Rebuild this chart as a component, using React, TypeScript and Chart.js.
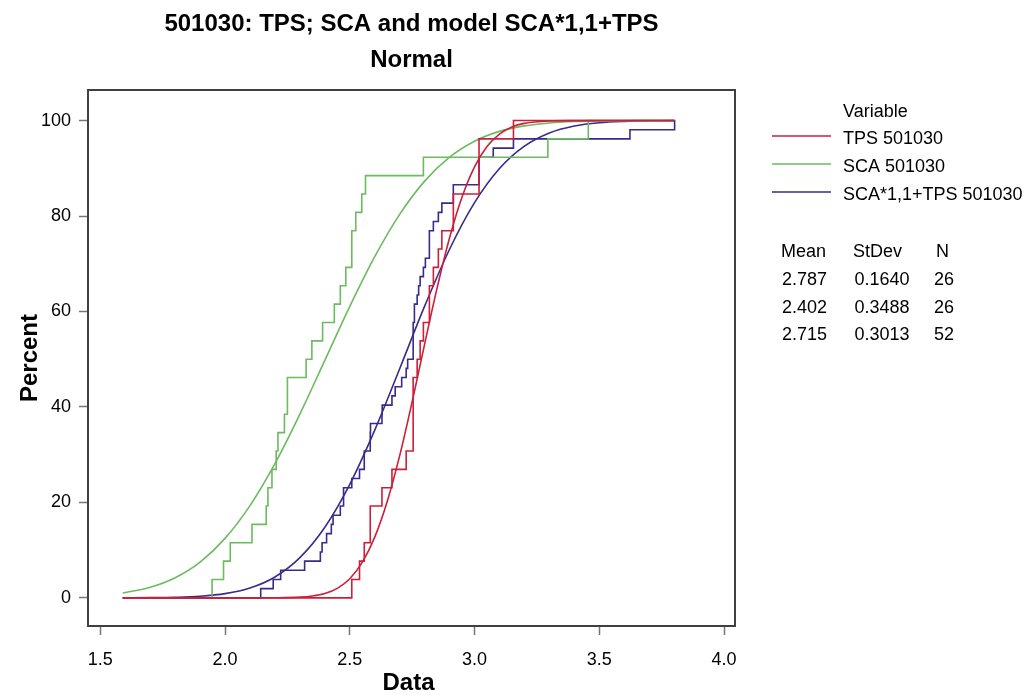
import React, { useEffect, useRef } from 'react';
import { Chart, registerables } from 'chart.js';

Chart.register(...registerables);

const FONT = '"Liberation Sans", Arial, Helvetica, sans-serif';

const title1 = '501030: TPS; SCA and model SCA*1,1+TPS';
const title2 = 'Normal';
const xAxisTitle = 'Data';
const yAxisTitle = 'Percent';
const legendTitle = 'Variable';

const seriesNames = ['TPS 501030', 'SCA 501030', 'SCA*1,1+TPS 501030'];
const seriesColors = ['#cc1f3a', '#6cbb5e', '#3b2a8a'];

// raw observations (sorted) read from the empirical CDF steps
const tpsValues = [2.508, 2.539, 2.558, 2.582, 2.582, 2.629, 2.669, 2.726, 2.754, 2.754, 2.754, 2.754, 2.770,
  2.782, 2.795, 2.819, 2.819, 2.835, 2.855, 2.869, 2.915, 2.915, 3.018, 3.018, 3.018, 3.156];
const scaValues = [1.948, 1.994, 2.021, 2.108, 2.165, 2.172, 2.188, 2.205, 2.212, 2.238, 2.250, 2.250, 2.325,
  2.348, 2.391, 2.438, 2.462, 2.484, 2.508, 2.508, 2.524, 2.548, 2.563, 2.795, 3.294, 3.456];
const modelValues = [2.143, 2.193, 2.223, 2.319, 2.382, 2.389, 2.407, 2.426, 2.433, 2.462, 2.475, 2.475, 2.508,
  2.539, 2.558, 2.558, 2.582, 2.582, 2.583, 2.629, 2.630, 2.669, 2.682, 2.708, 2.726, 2.732, 2.754, 2.754,
  2.754, 2.754, 2.759, 2.759, 2.770, 2.776, 2.782, 2.795, 2.803, 2.819, 2.819, 2.819, 2.835, 2.855, 2.869,
  2.915, 2.915, 3.018, 3.018, 3.018, 3.075, 3.156, 3.623, 3.802];

// fitted normal curves (percent)
const fitX = [1.59, 1.7, 1.8, 1.9, 2.0, 2.1, 2.2, 2.3, 2.4, 2.5, 2.6, 2.7, 2.8, 2.9, 3.0, 3.1, 3.2, 3.3, 3.4,
  3.5, 3.6, 3.7, 3.8];
const scaFitPct = [1.0, 2.21, 4.22, 7.5, 12.46, 19.33, 28.13, 38.5, 49.77, 61.07, 71.49, 80.35, 87.31, 92.33,
  95.68, 97.73, 98.89, 99.5, 99.79, 99.92, 99.97, 99.99, 100.0];
const modelFitPct = [0.01, 0.04, 0.12, 0.34, 0.88, 2.06, 4.37, 8.42, 14.79, 23.78, 35.13, 48.01, 61.11, 73.04,
  82.79, 89.94, 94.63, 97.39, 98.85, 99.54, 99.83, 99.95, 99.98];
const tpsFitX = [1.59, 2.1, 2.2, 2.3, 2.35, 2.4, 2.45, 2.5, 2.55, 2.6, 2.65, 2.7, 2.75, 2.8, 2.85, 2.9, 2.95,
  3.0, 3.05, 3.1, 3.15, 3.2, 3.3, 3.4, 3.5, 3.8];
const tpsFitPct = [0, 0, 0.02, 0.15, 0.39, 0.91, 1.99, 4.01, 7.42, 12.71, 20.18, 29.79, 41.08, 53.16, 64.95,
  75.46, 83.98, 90.3, 94.56, 97.18, 98.66, 99.41, 99.91, 99.99, 100, 100];

const stepStart = 1.59;
const stepEnd = 3.8;

const xTickValues = [1.5, 2.0, 2.5, 3.0, 3.5, 4.0];
const xTickLabels = ['1.5', '2.0', '2.5', '3.0', '3.5', '4.0'];
const yTickValues = [0, 20, 40, 60, 80, 100];
const yTickLabels = ['0', '20', '40', '60', '80', '100'];

const statHeaders = ['Mean', 'StDev', 'N'];
const statMeans = ['2.787', '2.402', '2.715'];
const statStDevs = ['0.1640', '0.3488', '0.3013'];
const statN = ['26', '26', '52'];

function ecdf(values: number[]) {
  const n = values.length;
  const pts = [{ x: stepStart, y: 0 }];
  values.forEach((v, i) => pts.push({ x: v, y: ((i + 1) / n) * 100 }));
  pts.push({ x: stepEnd, y: 100 });
  return pts;
}

function curve(xs: number[], ys: number[]) {
  return xs.map((x, i) => ({ x, y: ys[i] }));
}

const overlay = {
  id: 'overlay',
  afterDraw(chart: any) {
    const { ctx, chartArea: a } = chart;
    ctx.save();
    ctx.strokeStyle = '#404040';
    ctx.lineWidth = 2;
    ctx.strokeRect(a.left, a.top, a.right - a.left, a.bottom - a.top);

    ctx.fillStyle = '#000';
    ctx.textBaseline = 'alphabetic';
    ctx.textAlign = 'center';
    ctx.font = `bold 24px ${FONT}`;
    const cx = (a.left + a.right) / 2;
    ctx.fillText(title1, cx, 31);
    ctx.fillText(title2, cx, 67);
    ctx.fillText(xAxisTitle, cx - 3, 690);
    ctx.save();
    ctx.translate(37, (a.top + a.bottom) / 2);
    ctx.rotate(-Math.PI / 2);
    ctx.fillText(yAxisTitle, 0, 0);
    ctx.restore();

    ctx.textAlign = 'left';
    ctx.font = `18px ${FONT}`;
    ctx.fillText(legendTitle, 843, 117);
    seriesNames.forEach((name, i) => {
      const ly = 136 + i * 28;
      ctx.strokeStyle = seriesColors[i];
      ctx.lineWidth = 1.5;
      ctx.beginPath();
      ctx.moveTo(772, ly);
      ctx.lineTo(831, ly);
      ctx.stroke();
      ctx.fillText(name, 843, ly + 8);
    });

    const cols = [781, 853, 936];
    statHeaders.forEach((h, i) => ctx.fillText(h, cols[i], 257));
    const rowCols = [782, 854.5, 934];
    for (let r = 0; r < 3; r++) {
      const y = 285 + r * 27.6;
      ctx.fillText(statMeans[r], rowCols[0], y);
      ctx.fillText(statStDevs[r], rowCols[1], y);
      ctx.fillText(statN[r], rowCols[2], y);
    }
    ctx.restore();
  },
};

export default function App() {
  const ref = useRef<HTMLCanvasElement>(null);

  useEffect(() => {
    if (!ref.current) return;
    const stepDs = (values: number[], i: number) => ({
      label: seriesNames[i] + ' steps',
      data: ecdf(values),
      showLine: true,
      stepped: 'before' as const,
      borderColor: seriesColors[i],
      borderWidth: 1.6,
      pointRadius: 0,
      fill: false,
    });
    const fitDs = (xs: number[], ys: number[], i: number) => ({
      label: seriesNames[i] + ' fit',
      data: curve(xs, ys),
      showLine: true,
      cubicInterpolationMode: 'monotone' as const,
      borderColor: seriesColors[i],
      borderWidth: 1.6,
      pointRadius: 0,
      fill: false,
    });

    const gridOpts = {
      drawOnChartArea: false,
      drawTicks: true,
      tickLength: 9,
      tickColor: '#777',
      tickWidth: 1.5,
    };

    const chart = new Chart(ref.current, {
      type: 'scatter',
      data: {
        datasets: [
          stepDs(tpsValues, 0),
          fitDs(tpsFitX, tpsFitPct, 0),
          stepDs(scaValues, 1),
          fitDs(fitX, scaFitPct, 1),
          stepDs(modelValues, 2),
          fitDs(fitX, modelFitPct, 2),
        ] as any,
      },
      options: {
        responsive: false,
        animation: false,
        devicePixelRatio: 1,
        layout: { padding: { left: 0, top: 90, right: 299, bottom: 0 } },
        plugins: {
          legend: { display: false },
          title: { display: false },
          tooltip: { enabled: false },
        },
        scales: {
          x: {
            type: 'linear',
            min: 1.4507,
            max: 4.044,
            grid: gridOpts as any,
            border: { display: false },
            afterBuildTicks: (s: any) => {
              s.ticks = xTickValues.map((v) => ({ value: v }));
            },
            afterFit: (s: any) => {
              s.height = 74;
            },
            ticks: {
              color: '#000',
              font: { family: FONT, size: 18 },
              padding: 14,
              maxRotation: 0,
              autoSkip: false,
              callback: (_v: any, i: number) => xTickLabels[i],
            },
          },
          y: {
            type: 'linear',
            min: -5.9,
            max: 106.4,
            grid: gridOpts as any,
            border: { display: false },
            afterBuildTicks: (s: any) => {
              s.ticks = yTickValues.map((v) => ({ value: v }));
            },
            afterFit: (s: any) => {
              s.width = 88;
            },
            ticks: {
              color: '#000',
              font: { family: FONT, size: 18 },
              padding: 8,
              autoSkip: false,
              callback: (_v: any, i: number) => yTickLabels[i],
            },
          },
        },
      },
      plugins: [overlay],
    });
    return () => chart.destroy();
  }, []);

  return (
    <div style={{ position: 'absolute', left: 0, top: 0, width: 1034, height: 700, background: '#fff' }}>
      <canvas ref={ref} width={1034} height={700} style={{ width: 1034, height: 700, display: 'block' }} />
    </div>
  );
}
